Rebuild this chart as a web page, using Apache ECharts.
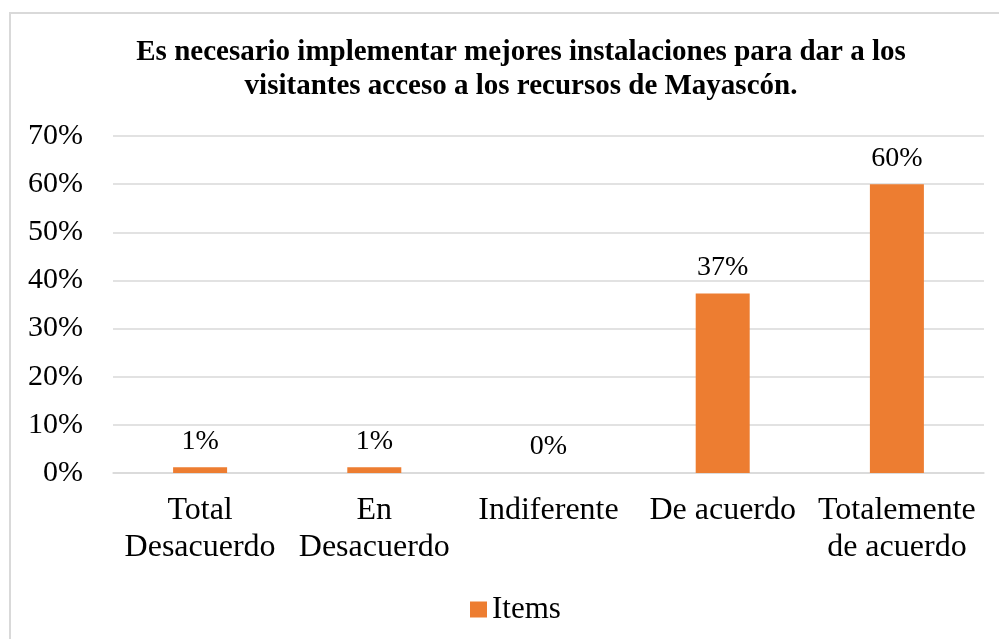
<!DOCTYPE html>
<html>
<head>
<meta charset="utf-8">
<script src="https://cdn.jsdelivr.net/npm/echarts@6/dist/echarts.min.js"></script>
<style>
  html, body { margin: 0; padding: 0; background: #fff; }
  #main { width: 999px; height: 639px; }
</style>
</head>
<body>
<div id="main"></div>
<script>
// datos del gráfico
const categorias = ['Total\nDesacuerdo', 'En\nDesacuerdo', 'Indiferente', 'De acuerdo', 'Totalemente\nde acuerdo'];
const valores = [1.2, 1.2, 0, 37.3, 60];
const serieNombre = 'Items';
const titulo = 'Es necesario implementar mejores instalaciones para dar a los\nvisitantes acceso a los recursos de Mayascón.';

const fuente = "'Liberation Serif', 'Times New Roman', serif";

let myChart = echarts.init(document.getElementById('main'));

let option = {
    backgroundColor: '#fff',
    animation: false,
    title: {
        text: titulo,
        left: 521,
        top: 36,
        padding: 0,
        textAlign: 'center',
        textStyle: {
            fontFamily: fuente,
            fontWeight: 'bold',
            fontSize: 29,
            lineHeight: 34,
            color: '#000'
        }
    },
    graphic: [{
        type: 'rect',
        shape: { x: 10, y: 13, width: 1000, height: 700 },
        style: { fill: 'none', stroke: '#d9d9d9', lineWidth: 2 },
        silent: true
    }],
    legend: {
        data: [serieNombre],
        left: 465,
        top: 589,
        icon: 'rect',
        itemWidth: 17,
        itemHeight: 16,
        textStyle: {
            fontFamily: fuente,
            fontSize: 31,
            color: '#000'
        }
    },
    grid: {
        left: 113,
        right: 15,
        top: 136,
        bottom: 166
    },
    xAxis: {
        type: 'category',
        data: categorias,
        axisLine: {
            lineStyle: { color: '#d9d9d9', width: 1.5 }
        },
        axisTick: { show: false },
        axisLabel: {
            interval: 0,
            fontFamily: fuente,
            fontSize: 32,
            lineHeight: 37,
            color: '#000',
            margin: 19
        }
    },
    yAxis: {
        type: 'value',
        min: 0,
        max: 70,
        interval: 10,
        axisLine: { show: false },
        axisTick: { show: false },
        axisLabel: {
            formatter: '{value}%',
            fontFamily: fuente,
            fontSize: 30,
            color: '#000',
            margin: 30
        },
        splitLine: {
            lineStyle: { color: '#d9d9d9', width: 1.5 }
        }
    },
    series: [{
        name: serieNombre,
        type: 'bar',
        data: valores,
        barWidth: 54,
        itemStyle: { color: '#ED7D31' },
        label: {
            show: true,
            position: 'top',
            distance: 12,
            formatter: function (p) { return Math.round(p.value) + '%'; },
            fontFamily: fuente,
            fontSize: 28,
            color: '#000'
        }
    }]
};

myChart.setOption(option);
</script>
</body>
</html>
